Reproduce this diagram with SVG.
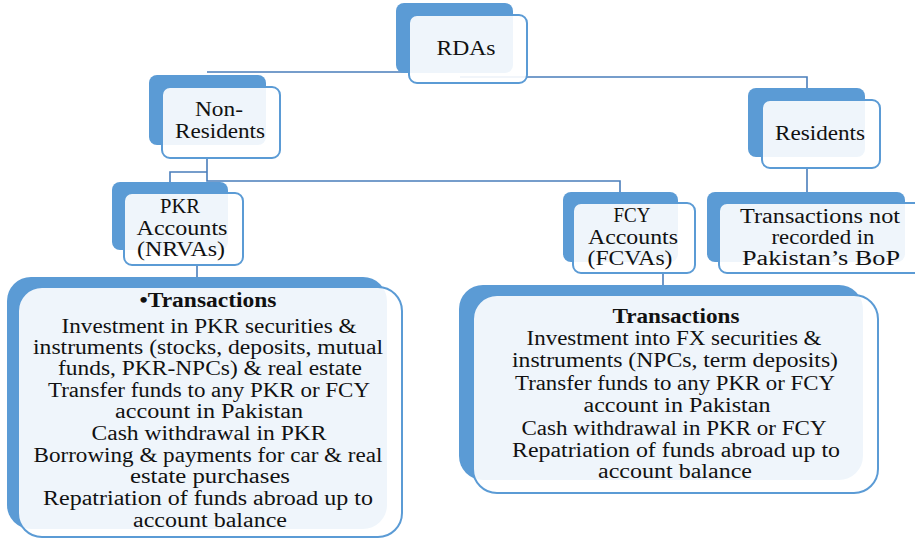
<svg xmlns="http://www.w3.org/2000/svg" width="915" height="539" viewBox="0 0 915 539">
<style>
.bk{fill:#5b9bd5}
.fr{fill:#ffffff;fill-opacity:.9;stroke:#5b9bd5;stroke-width:2}
.t{font-family:"Liberation Serif",serif;font-size:20px;fill:#111;text-anchor:middle}
.b{font-weight:bold}
.c{fill:none;stroke:#4a7ebb;stroke-width:1.6}
</style>
<rect width="915" height="539" fill="#ffffff"/>
<g id="connectors">
<path class="c" d="M207,72 H460 M460,77 H807 V88"/>
<path class="c" d="M207,158 V181 H620 V192"/>
<path class="c" d="M207,172 H170 V182"/>
<path class="c" d="M807,168 V192"/>
<path class="c" d="M197,265 V278"/>
<path class="c" d="M663,273 V285"/>
</g>
<g id="rdas">
<rect class="bk" x="396" y="3" width="117" height="70" rx="8"/>
<rect class="fr" x="409" y="15" width="118" height="68" rx="8"/>
<text class="t" x="466" y="55" textLength="59" lengthAdjust="spacingAndGlyphs">RDAs</text>
</g>
<g id="non-residents">
<rect class="bk" x="149" y="75" width="117" height="70" rx="8"/>
<rect class="fr" x="162" y="87" width="118" height="71" rx="8"/>
<text class="t" x="219" y="116" textLength="48" lengthAdjust="spacingAndGlyphs">Non-</text>
<text class="t" x="220" y="138" textLength="90" lengthAdjust="spacingAndGlyphs">Residents</text>
</g>
<g id="residents">
<rect class="bk" x="748" y="88" width="117" height="69" rx="8"/>
<rect class="fr" x="762" y="100" width="118" height="68" rx="8"/>
<text class="t" x="820" y="140" textLength="90" lengthAdjust="spacingAndGlyphs">Residents</text>
</g>
<g id="pkr-accounts">
<rect class="bk" x="112" y="182" width="116" height="68" rx="8"/>
<rect class="fr" x="124" y="193" width="119" height="72" rx="8"/>
<text class="t" x="180" y="213" textLength="40" lengthAdjust="spacingAndGlyphs">PKR</text>
<text class="t" x="182" y="235" textLength="91" lengthAdjust="spacingAndGlyphs">Accounts</text>
<text class="t" x="181" y="256" textLength="88" lengthAdjust="spacingAndGlyphs">(NRVAs)</text>
</g>
<g id="fcy-accounts">
<rect class="bk" x="563" y="192" width="115" height="70" rx="8"/>
<rect class="fr" x="573" y="203" width="122" height="70" rx="8"/>
<text class="t" x="632" y="222" textLength="37" lengthAdjust="spacingAndGlyphs">FCY</text>
<text class="t" x="633" y="244" textLength="90" lengthAdjust="spacingAndGlyphs">Accounts</text>
<text class="t" x="630" y="265" textLength="85" lengthAdjust="spacingAndGlyphs">(FCVAs)</text>
</g>
<g id="not-recorded">
<rect class="bk" x="707" y="192" width="198" height="70" rx="8"/>
<rect class="fr" x="719" y="203" width="210" height="70" rx="8"/>
<text class="t" x="820" y="223" textLength="160" lengthAdjust="spacingAndGlyphs">Transactions not</text>
<text class="t" x="823" y="244" textLength="103" lengthAdjust="spacingAndGlyphs">recorded in</text>
<text class="t" x="821" y="265" textLength="158" lengthAdjust="spacingAndGlyphs">Pakistan’s BoP</text>
</g>
<g id="pkr-transactions">
<rect class="bk" x="7" y="277" width="380" height="252" rx="24"/>
<rect class="fr" x="18" y="287" width="384" height="250" rx="24"/>
<text class="t b" x="208" y="307" textLength="137" lengthAdjust="spacingAndGlyphs">•Transactions</text>
<text class="t" x="209" y="333" textLength="295" lengthAdjust="spacingAndGlyphs">Investment in PKR securities &amp;</text>
<text class="t" x="208" y="354" textLength="350" lengthAdjust="spacingAndGlyphs">instruments (stocks, deposits, mutual</text>
<text class="t" x="210" y="375" textLength="304" lengthAdjust="spacingAndGlyphs">funds, PKR-NPCs) &amp; real estate</text>
<text class="t" x="209" y="397" textLength="322" lengthAdjust="spacingAndGlyphs">Transfer funds to any PKR or FCY</text>
<text class="t" x="209" y="418" textLength="188" lengthAdjust="spacingAndGlyphs">account in Pakistan</text>
<text class="t" x="209" y="440" textLength="235" lengthAdjust="spacingAndGlyphs">Cash withdrawal in PKR</text>
<text class="t" x="208" y="462" textLength="349" lengthAdjust="spacingAndGlyphs">Borrowing &amp; payments for car &amp; real</text>
<text class="t" x="210" y="483" textLength="160" lengthAdjust="spacingAndGlyphs">estate purchases</text>
<text class="t" x="208" y="505" textLength="330" lengthAdjust="spacingAndGlyphs">Repatriation of funds abroad up to</text>
<text class="t" x="210" y="527" textLength="154" lengthAdjust="spacingAndGlyphs">account balance</text>
</g>
<g id="fcy-transactions">
<rect class="bk" x="459" y="285" width="404" height="195" rx="24"/>
<rect class="fr" x="473" y="295" width="405" height="198" rx="24"/>
<text class="t b" x="676" y="323" textLength="127" lengthAdjust="spacingAndGlyphs">Transactions</text>
<text class="t" x="674" y="345" textLength="295" lengthAdjust="spacingAndGlyphs">Investment into FX securities &amp;</text>
<text class="t" x="675" y="367" textLength="326" lengthAdjust="spacingAndGlyphs">instruments (NPCs, term deposits)</text>
<text class="t" x="675" y="390" textLength="320" lengthAdjust="spacingAndGlyphs">Transfer funds to any PKR or FCY</text>
<text class="t" x="677" y="412" textLength="187" lengthAdjust="spacingAndGlyphs">account in Pakistan</text>
<text class="t" x="674" y="435" textLength="305" lengthAdjust="spacingAndGlyphs">Cash withdrawal in PKR or FCY</text>
<text class="t" x="676" y="457" textLength="328" lengthAdjust="spacingAndGlyphs">Repatriation of funds abroad up to</text>
<text class="t" x="675" y="478" textLength="154" lengthAdjust="spacingAndGlyphs">account balance</text>
</g>
</svg>
